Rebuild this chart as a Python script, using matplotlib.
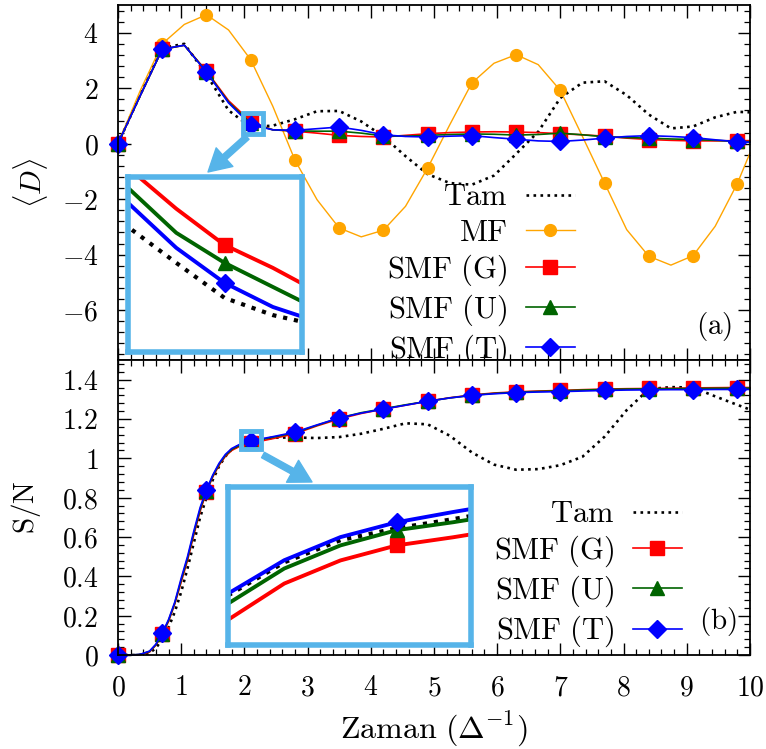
import matplotlib
matplotlib.use('Agg')
import matplotlib.pyplot as plt
from matplotlib.ticker import MultipleLocator, FuncFormatter
from matplotlib.patches import Rectangle

plt.rcParams['mathtext.fontset'] = 'cm'
plt.rcParams['font.family'] = 'serif'
plt.rcParams['font.serif'] = ['DejaVu Serif']

# times where the markers sit
t_mark = [0, 0.7, 1.4, 2.1, 2.8, 3.5, 4.2, 4.9, 5.6, 6.3, 7.0, 7.7, 8.4, 9.1, 9.8]

# panel (a): <D>
t_a = [0, 0.35, 0.7, 1.05, 1.4, 1.75, 2.1, 2.45, 2.8, 3.15, 3.5, 3.85, 4.2, 4.55, 4.9,
       5.25, 5.6, 5.95, 6.3, 6.65, 7.0, 7.35, 7.7, 8.05, 8.4, 8.75, 9.1, 9.45, 9.8, 10.0]
tam_a = [0, 1.75, 3.45, 3.6, 2.5, 1.2, 0.6, 0.65, 0.88, 1.17, 1.18, 0.8, 0.26, -0.45, -1.1,
         -1.42, -1.48, -1.15, -0.37, 0.43, 1.65, 2.2, 2.25, 1.75, 1.05, 0.55, 0.62, 0.95, 1.15, 1.13]
mf_a = [0, 1.9, 3.6, 4.3, 4.65, 4.1, 3.03, 1.35, -0.59, -2.02, -3.04, -3.36, -3.12, -2.26, -0.88,
        0.68, 2.19, 2.9, 3.21, 2.85, 1.92, 0.26, -1.42, -3.1, -4.06, -4.38, -4.04, -2.98, -1.44, -0.34]
g_a = [0, 1.72, 3.4, 3.55, 2.62, 1.55, 0.80, 0.5, 0.45, 0.38, 0.30, 0.26, 0.24, 0.30, 0.36,
       0.40, 0.42, 0.43, 0.42, 0.40, 0.36, 0.32, 0.27, 0.20, 0.15, 0.12, 0.10, 0.10, 0.11, 0.11]
u_a = [0, 1.72, 3.4, 3.55, 2.6, 1.5, 0.74, 0.5, 0.46, 0.45, 0.45, 0.38, 0.28, 0.27, 0.30,
       0.33, 0.35, 0.34, 0.31, 0.33, 0.38, 0.32, 0.25, 0.22, 0.20, 0.17, 0.15, 0.12, 0.08, 0.07]
tt_a = [0, 1.72, 3.41, 3.55, 2.58, 1.47, 0.68, 0.5, 0.48, 0.54, 0.60, 0.48, 0.32, 0.26, 0.24,
        0.27, 0.29, 0.22, 0.16, 0.10, 0.08, 0.13, 0.20, 0.26, 0.29, 0.26, 0.22, 0.14, 0.07, 0.05]

# zoomed window of panel (a)
t_ia = [1.95, 2.0, 2.05, 2.1, 2.15, 2.2]
tam_ia = [0.98, 0.86, 0.745, 0.633, 0.578, 0.543]
g_ia = [1.18, 1.049, 0.918, 0.802, 0.729, 0.646]
u_ia = [1.12, 0.985, 0.841, 0.745, 0.668, 0.591]
tt_ia = [1.08, 0.937, 0.793, 0.681, 0.604, 0.553]

# panel (b): S/N
t_b = [0, 0.2, 0.35, 0.5, 0.6, 0.7, 0.8, 0.9, 1.0, 1.1, 1.2, 1.3, 1.4, 1.5, 1.6, 1.7, 1.8, 1.95,
       2.1, 2.45, 2.8, 3.15, 3.5, 3.85, 4.2, 4.55, 4.9, 5.25, 5.6, 5.95, 6.3, 6.65, 7.0, 7.35,
       7.7, 8.05, 8.4, 8.75, 9.1, 9.45, 9.8, 10.0]
tam_b = [0, 0.0, 0.0, 0.01, 0.035, 0.08, 0.14, 0.22, 0.32, 0.44, 0.57, 0.70, 0.80, 0.89, 0.96,
         1.01, 1.045, 1.07, 1.086, 1.105, 1.106, 1.103, 1.108, 1.125, 1.15, 1.178, 1.173, 1.115,
         1.03, 0.968, 0.942, 0.945, 0.965, 1.008, 1.11, 1.245, 1.352, 1.362, 1.36, 1.315, 1.272, 1.248]
g_b = [0, 0.0, 0.002, 0.015, 0.05, 0.105, 0.17, 0.26, 0.37, 0.48, 0.61, 0.73, 0.83, 0.905, 0.965,
       1.01, 1.04, 1.065, 1.077, 1.10, 1.125, 1.165, 1.2, 1.228, 1.25, 1.27, 1.29, 1.308, 1.322,
       1.332, 1.338, 1.342, 1.345, 1.349, 1.352, 1.354, 1.355, 1.356, 1.358, 1.359, 1.36, 1.36]
u_b = [0, 0.0, 0.003, 0.018, 0.052, 0.108, 0.175, 0.265, 0.38, 0.49, 0.62, 0.74, 0.835, 0.91, 0.97,
       1.015, 1.045, 1.07, 1.085, 1.107, 1.13, 1.168, 1.205, 1.232, 1.252, 1.272, 1.29, 1.307, 1.32,
       1.33, 1.336, 1.34, 1.343, 1.347, 1.35, 1.352, 1.353, 1.354, 1.355, 1.356, 1.357, 1.357]
tt_b = [0, 0.0, 0.003, 0.02, 0.055, 0.11, 0.18, 0.27, 0.39, 0.50, 0.63, 0.75, 0.84, 0.915, 0.975,
        1.02, 1.05, 1.075, 1.089, 1.11, 1.133, 1.17, 1.205, 1.23, 1.25, 1.27, 1.29, 1.307, 1.32,
        1.328, 1.334, 1.337, 1.339, 1.342, 1.345, 1.347, 1.348, 1.349, 1.349, 1.35, 1.35, 1.35]

# zoomed window of panel (b)
t_ib = [1.95, 2.0, 2.05, 2.1, 2.15, 2.2]
tam_ib = [1.0507, 1.0679, 1.0794, 1.0856, 1.0903, 1.0955]
g_ib = [1.0381, 1.0569, 1.0689, 1.0767, 1.0809, 1.0856]
u_ib = [1.0465, 1.0647, 1.0767, 1.0846, 1.0887, 1.0934]
tt_ib = [1.0517, 1.069, 1.081, 1.0887, 1.094, 1.0989]

box_c = '#56b4e9'
c_g, c_u, c_t, c_mf = '#ff0000', '#006400', '#0000ff', '#ffa500'


def marks_at(t, times):
    return [t.index(v) for v in times]


def smf_lines(ax, t, g, u, tt, times, lw=1.2, labels=True, clip=True):
    me = marks_at(t, times)
    ax.plot(t, g, color=c_g, lw=lw, marker='s', ms=9.5, markevery=me, clip_on=clip,
            label=r'$\mathrm{SMF\ (G)}$' if labels else None)
    ax.plot(t, u, color=c_u, lw=lw, marker='^', ms=10, markevery=me, clip_on=clip,
            label=r'$\mathrm{SMF\ (U)}$' if labels else None)
    ax.plot(t, tt, color=c_t, lw=lw, marker='D', ms=9, markevery=me, clip_on=clip,
            label=r'$\mathrm{SMF\ (T)}$' if labels else None)


def style(ax):
    ax.set_xlim(0, 10)
    ax.xaxis.set_major_locator(MultipleLocator(1))
    ax.xaxis.set_minor_locator(MultipleLocator(0.2))
    ax.tick_params(which='both', direction='in', top=True, right=True, labelsize=20, pad=14)
    ax.tick_params(which='major', length=9, width=1)
    ax.tick_params(which='minor', length=4.5, width=0.9)
    fmt = FuncFormatter(lambda v, p: f'${v:g}$')
    ax.xaxis.set_major_formatter(fmt)
    ax.yaxis.set_major_formatter(fmt)
    for s in ax.spines.values():
        s.set_linewidth(1.3)


def inset_style(ax):
    ax.set_xticks([])
    ax.set_yticks([])
    for s in ax.spines.values():
        s.set_color(box_c)
        s.set_linewidth(4)


leg_kw = dict(loc='center right', frameon=False, fontsize=22, markerfirst=False,
              handlelength=1.6, handletextpad=0.6, labelspacing=0.15,
              borderpad=0, borderaxespad=0)

fig = plt.figure(figsize=(7.66, 7.49), dpi=100)
ax1 = fig.add_axes([0.154, 0.5194, 0.825, 0.4739])
ax2 = fig.add_axes([0.154, 0.1255, 0.825, 0.3939])

# ---- panel (a)
ax1.plot(t_a, tam_a, color='black', lw=1.9, ls=':', label=r'$\mathrm{Tam}$')
ax1.plot(t_a, mf_a, color=c_mf, lw=1.0, marker='o', ms=8.5, clip_on=False,
         markevery=marks_at(t_a, t_mark), label=r'$\mathrm{MF}$')
smf_lines(ax1, t_a, g_a, u_a, tt_a, t_mark, clip=False)
style(ax1)
ax1.set_ylim(-7.8, 5)
ax1.yaxis.set_major_locator(MultipleLocator(2))
ax1.yaxis.set_minor_locator(MultipleLocator(0.4))
ax1.tick_params(labelbottom=False)
ax1.set_ylabel(r'$\langle D\rangle$', fontsize=21)
ax1.yaxis.set_label_coords(-0.108, 0.5)
ax1.legend(bbox_to_anchor=(0.723, 0.24), **leg_kw)
ax1.text(0.944, 0.093, r'$\mathrm{(a)}$', transform=ax1.transAxes, fontsize=21,
         ha='center', va='center')
ax1.add_patch(Rectangle((1.98, 0.36), 0.31, 0.76, fill=False, ec=box_c, lw=3.5, zorder=6))

ins1 = fig.add_axes([0.167, 0.530, 0.227, 0.234])
ins1.plot(t_ia, tam_ia, color='black', lw=3, ls=':')
smf_lines(ins1, t_ia, g_ia, u_ia, tt_ia, [2.1], lw=2.8, labels=False)
ins1.set_xlim(2.0, 2.18)
ins1.set_ylim(0.46, 1.02)
inset_style(ins1)

# ---- panel (b)
ax2.plot(t_b, tam_b, color='black', lw=1.9, ls=':', label=r'$\mathrm{Tam}$')
smf_lines(ax2, t_b, g_b, u_b, tt_b, t_mark, clip=False)
style(ax2)
ax2.set_ylim(0, 1.5)
ax2.yaxis.set_major_locator(MultipleLocator(0.2))
ax2.yaxis.set_minor_locator(MultipleLocator(0.04))
ax2.set_ylabel(r'$\mathrm{S/N}$', fontsize=21)
ax2.yaxis.set_label_coords(-0.119, 0.5)
ax2.set_xlabel(r'$\mathrm{Zaman}\ (\Delta^{-1})$', fontsize=23, labelpad=6)
ax2.legend(bbox_to_anchor=(0.892, 0.275), **leg_kw)
ax2.text(0.949, 0.112, r'$\mathrm{(b)}$', transform=ax2.transAxes, fontsize=21,
         ha='center', va='center')
ax2.add_patch(Rectangle((1.94, 1.046), 0.33, 0.091, fill=False, ec=box_c, lw=3.5, zorder=6))

ins2 = fig.add_axes([0.2977, 0.1388, 0.317, 0.211])
ins2.plot(t_ib, tam_ib, color='black', lw=3, ls=':')
smf_lines(ins2, t_ib, g_ib, u_ib, tt_ib, [2.1], lw=2.8, labels=False)
ins2.set_xlim(1.95, 2.166)
ins2.set_ylim(1.025, 1.107)
inset_style(ins2)

# arrows from the small boxes to the zoom windows (figure pixels)
arrow = dict(arrowstyle='simple,head_width=0.9,head_length=0.8,tail_width=0.22',
             color=box_c, mutation_scale=20, shrinkA=0, shrinkB=0)
ax1.annotate('', xy=(208, 577), xytext=(247, 612), xycoords='figure pixels',
             textcoords='figure pixels', arrowprops=arrow, annotation_clip=False)
ax2.annotate('', xy=(312, 267), xytext=(263, 294), xycoords='figure pixels',
             textcoords='figure pixels', arrowprops=arrow, annotation_clip=False)

fig.savefig('out.png', dpi=100)
